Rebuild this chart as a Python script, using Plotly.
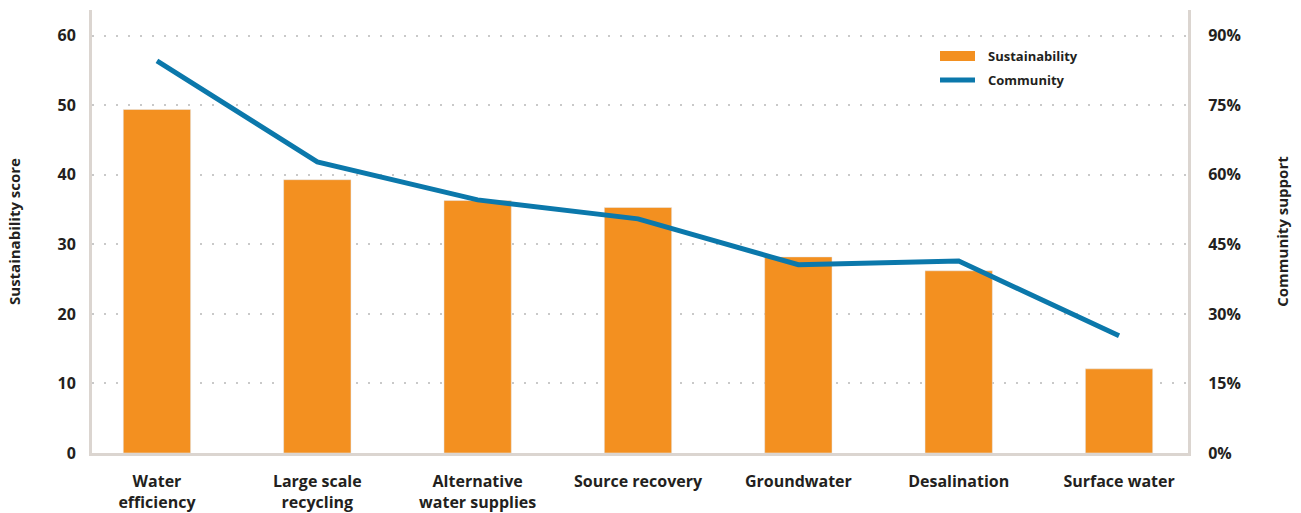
import plotly.graph_objects as go

categories = ["Water<br>efficiency", "Large scale<br>recycling", "Alternative<br>water supplies",
              "Source recovery", "Groundwater", "Desalination", "Surface water"]
sustainability = [49.4, 39.3, 36.3, 35.3, 28.2, 26.2, 12.1]
community = [84.6, 62.8, 54.6, 50.5, 40.6, 41.4, 25.3]
left_ticks = [0, 10, 20, 30, 40, 50, 60]
right_ticks = [0, 15, 30, 45, 60, 75, 90]
right_labels = ["0%", "15%", "30%", "45%", "60%", "75%", "90%"]
series_names = ["Sustainability", "Community"]

ORANGE = "#F39020"
BLUE = "#0B78AB"
AXIS = "#DBD5D0"
GRID = "#C9C9C9"
TXT = "#231F20"
FONT = "Open Sans"

W, H = 1301, 513
L, R, T, B = 92, 113, 10, 60
PW, PH = W - L - R, H - T - B


def px_x(p):
    return (p - L) / PW


def px_y(p):
    return (H - B - p) / PH


xs = list(range(len(categories)))

fig = go.Figure()
fig.add_trace(go.Bar(x=xs, y=sustainability, name=series_names[0], marker_color=ORANGE,
                     width=0.42, yaxis="y"))
fig.add_trace(go.Scatter(x=xs, y=community, name=series_names[1], mode="lines",
                         line=dict(color=BLUE, width=5), yaxis="y2"))

# manual legend (wide swatches as in the reference)
fig.add_shape(type="rect", xref="paper", yref="paper", x0=px_x(940), x1=px_x(975),
              y0=px_y(61), y1=px_y(51), fillcolor=ORANGE, line=dict(width=0))
fig.add_shape(type="line", xref="paper", yref="paper", x0=px_x(940), x1=px_x(975),
              y0=px_y(80), y1=px_y(80), line=dict(color=BLUE, width=5))
for name, py in zip(series_names, [56, 80]):
    fig.add_annotation(xref="paper", yref="paper", x=px_x(986), y=px_y(py), text="<b>%s</b>" % name,
                       showarrow=False, xanchor="left", yanchor="middle",
                       font=dict(size=13, family=FONT, color=TXT))

fig.update_layout(
    width=W, height=H,
    margin=dict(l=L, r=R, t=T, b=B),
    paper_bgcolor="white", plot_bgcolor="white",
    font=dict(family=FONT, color=TXT, size=16),
    showlegend=False,
    xaxis=dict(range=[-0.405, 6.43], tickvals=xs, ticktext=["<b>%s</b>" % c for c in categories],
               showline=True, linecolor=AXIS, linewidth=3, showgrid=False, zeroline=False,
               ticks="", ticklabelstandoff=12, tickfont=dict(size=16), automargin=False),
    yaxis=dict(range=[0, 63.7], tickvals=left_ticks, ticktext=["<b>%d</b>" % v for v in left_ticks],
               showline=True, linecolor=AXIS, linewidth=3, showgrid=True, gridcolor=GRID,
               griddash="2px,10px", gridwidth=2, zeroline=False, ticks="", ticklabelstandoff=10,
               tickfont=dict(size=16), automargin=False,
               title=dict(text="<b>Sustainability score</b>", font=dict(size=15), standoff=34)),
    yaxis2=dict(range=[0, 95.55], overlaying="y", side="right", tickvals=right_ticks,
                ticktext=["<b>%s</b>" % t for t in right_labels],
                showline=True, linecolor=AXIS, linewidth=3, showgrid=False, zeroline=False,
                ticks="", ticklabelstandoff=14, tickfont=dict(size=16), automargin=False,
                title=dict(text="<b>Community support</b>", font=dict(size=15), standoff=38)),
)

fig.write_html("out.html", config={"displayModeBar": False},
               post_script="document.body.style.margin='0';document.body.style.overflow='hidden';")
